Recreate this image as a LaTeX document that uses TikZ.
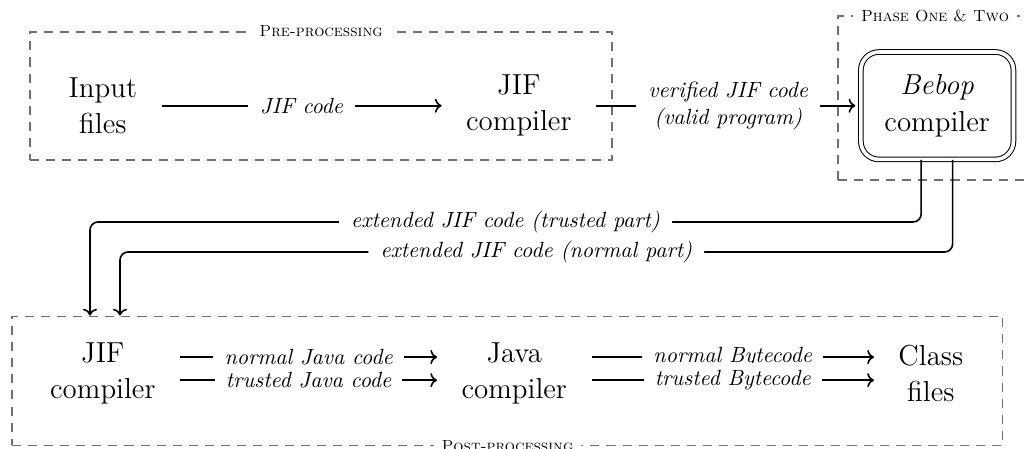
\documentclass[11pt,tikz,border=0pt]{standalone}
\usetikzlibrary{arrows.meta,positioning}
\definecolor{flowInk}{HTML}{000000}
\definecolor{flowGray}{HTML}{707070}
\tikzset{
  every picture/.style={text=flowInk},
  tool/.style={align=center, font=\Large, inner xsep=12pt, inner ysep=2pt},
  bebop box/.style={tool, draw=flowInk, line width=0.5pt, double, double distance=1.8pt,
    rounded corners=9pt, inner xsep=6pt, minimum width=2.67cm, minimum height=1.88cm},
  stage box/.style={draw=flowGray, line width=0.55pt, dash pattern=on 4.5pt off 3.5pt, inner sep=0pt},
  stage title/.style={font=\scriptsize\scshape, fill=white, inner xsep=4pt, inner ysep=1pt},
  flow arrow/.style={-{To}, draw=flowInk, line width=0.8pt},
  flow label/.style={font=\itshape, fill=white, align=center, inner xsep=6pt},
  flow label tight/.style={flow label, inner xsep=5.5pt}
}

\begin{document}
\begin{tikzpicture}
  \useasboundingbox (0,0) rectangle (17.99,7.84);
  % dashed stages
  \node[stage box, minimum width=10.185cm, minimum height=2.24cm] (pre) at (5.6175,6.16) {};
  \node[stage box, minimum width=3.395cm, minimum height=2.87cm] (phase) at (16.3625,6.125) {};
  \node[stage box, minimum width=17.34cm, minimum height=2.2575cm] (post) at (8.88,1.18) {};
  \node[stage title] (preTitle) at (pre.north) {Pre-processing};
  \node[stage title] (phaseTitle) at (phase.north) {Phase One \& Two};
  \node[stage title] (postTitle) at (post.south) {Post-processing};
  % tools
  \node[tool] (input) at (1.80,5.99) {Input\\files};
  \node[tool] (jifA) at (9.08,5.99) {JIF\\compiler};
  \node[bebop box] (bebop) at (16.40,5.99) {\textit{Bebop}\\compiler};
  \node[tool] (jifB) at (1.80,1.31) {JIF\\compiler};
  \node[tool] (javac) at (9.0,1.31) {Java\\compiler};
  \node[tool] (classes) at (16.29,1.31) {Class\\files};
  % flows
  \draw[flow arrow] (input) -- node[flow label] {JIF code} (jifA);
  \draw[flow arrow, shorten >=2.5pt] (jifA) -- node[flow label] {verified JIF code\\(valid program)} (bebop);
  \coordinate (trustedBend) at (1.575,3.955);
  \coordinate (normalBend) at (2.10,3.43);
  \draw[flow arrow, rounded corners=4pt] ([xshift=-0.28cm]bebop.south) |- node[flow label, pos=0.75] {extended JIF code (trusted part)} (trustedBend) -- (trustedBend |- post.north);
  \draw[flow arrow, rounded corners=4pt] ([xshift=0.27cm]bebop.south) |- node[flow label, pos=0.75] {extended JIF code (normal part)} (normalBend) -- (normalBend |- post.north);
  \draw[flow arrow] ([yshift=8pt]jifB.east) -- node[flow label tight] {normal Java code} ([yshift=8pt]javac.west);
  \draw[flow arrow] ([yshift=-3.5pt]jifB.east) -- node[flow label tight] {trusted Java code} ([yshift=-3.5pt]javac.west);
  \draw[flow arrow] ([yshift=8pt]javac.east) -- node[flow label tight] {normal Bytecode} ([yshift=8pt]classes.west);
  \draw[flow arrow] ([yshift=-3.5pt]javac.east) -- node[flow label tight] {trusted Bytecode} ([yshift=-3.5pt]classes.west);
\end{tikzpicture}
\end{document}
